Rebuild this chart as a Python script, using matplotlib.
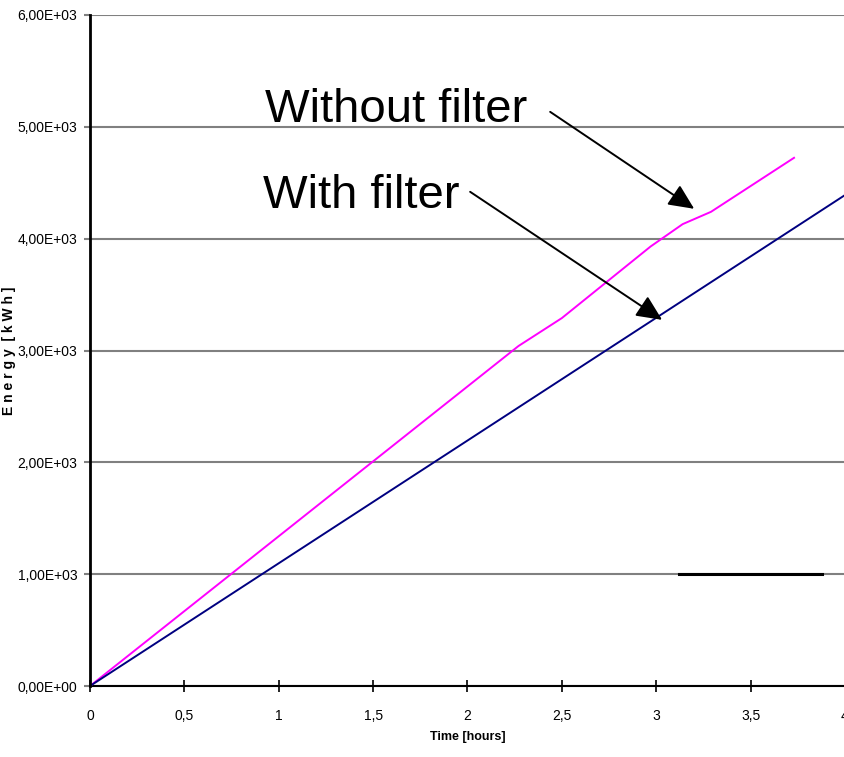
import numpy as np
import matplotlib
matplotlib.use("Agg")
import matplotlib.pyplot as plt
from matplotlib.ticker import FuncFormatter, MultipleLocator

# data
time_nofilter = [0, 2.27, 2.5, 2.97, 3.14, 3.29, 3.73]
energy_nofilter = [0, 3040, 3290, 3930, 4130, 4240, 4723]

time_filter = [0, 4.0]
energy_filter = [0, 4390]

seg_time = [3.12, 3.88]
seg_energy = [1000, 1000]

font = "Liberation Sans"

fig = plt.figure(figsize=(8.45, 7.57), dpi=100)
ax = fig.add_axes([90/845, 1 - 686/757, 755/845, 671/757])

ax.plot(time_nofilter, energy_nofilter, color="#FF00FF", lw=1.4, zorder=3)
ax.plot(time_filter, energy_filter, color="#000080", lw=1.4, zorder=3)
ax.plot(seg_time, seg_energy, color="black", lw=2.2, zorder=3)

ax.set_xlim(0, 4)
ax.set_ylim(0, 6000)
ax.xaxis.set_major_locator(MultipleLocator(0.5))
ax.yaxis.set_major_locator(MultipleLocator(1000))
ax.xaxis.set_major_formatter(FuncFormatter(lambda v, p: ("%g" % v).replace(".", ",")))
ax.yaxis.set_major_formatter(FuncFormatter(lambda v, p: ("%.2E" % v).replace(".", ",")))

ax.grid(axis="y", color="#808080", lw=1.5)
ax.set_axisbelow(True)
for s in ["top", "right"]:
    ax.spines[s].set_visible(False)
ax.spines["left"].set_linewidth(2)
ax.spines["bottom"].set_linewidth(1.5)
ax.spines["left"].set_zorder(4)

ax.tick_params(axis="y", direction="out", length=4, width=1.5, color="#808080", pad=5)
ax.tick_params(axis="x", direction="inout", length=9, width=1.2, color="black", pad=12)
for lab in ax.get_xticklabels() + ax.get_yticklabels():
    lab.set_family(font)
    lab.set_fontsize(10)

ax.set_xlabel("Time [hours]", family=font, fontsize=9, fontweight="bold")
ax.xaxis.set_label_coords(0.5, (686 - 731) / 671)
ax.set_ylabel("E n e r g y  [ k W h ]", family=font, fontsize=10, fontweight="bold")
ax.yaxis.set_label_coords((16 - 90) / 755, 0.5)

ax.text(0.927, 5045, "Without filter", fontsize=34, family=font, va="baseline")
ax.text(0.917, 4275, "With filter", fontsize=34, family=font, va="baseline")

arrow = dict(arrowstyle="-|>,head_length=1.3,head_width=0.6", mutation_scale=12,
             color="black", lw=1.4, shrinkA=0, shrinkB=0)
ax.annotate("", xy=(3.201, 4267), xytext=(2.438, 5134), arrowprops=arrow, zorder=5)
ax.annotate("", xy=(3.031, 3274), xytext=(2.014, 4419), arrowprops=arrow, zorder=5)

fig.savefig("out.png", dpi=100)
